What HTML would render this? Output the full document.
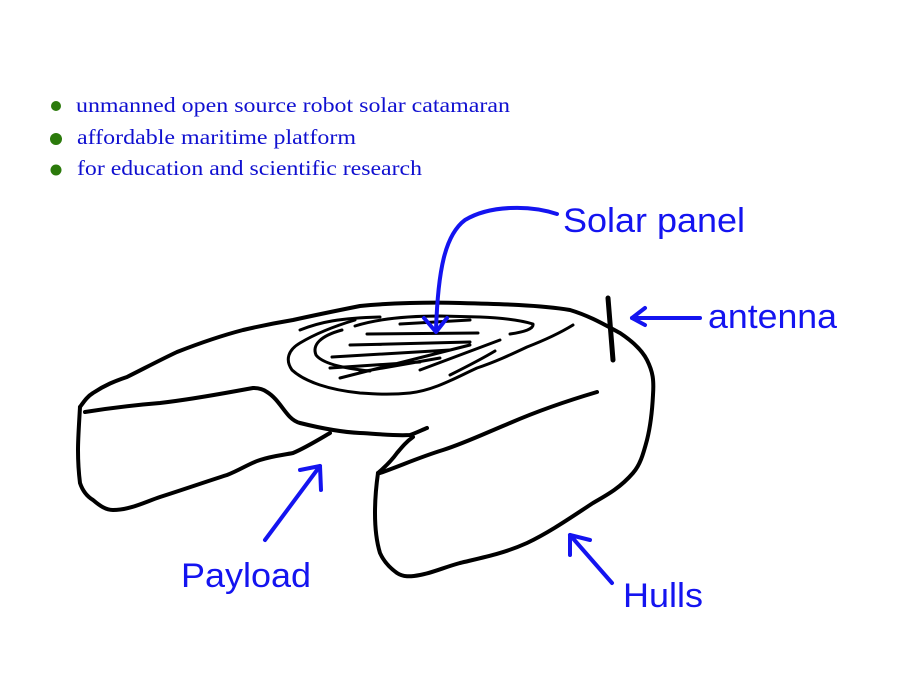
<!DOCTYPE html>
<html><head><meta charset="utf-8"><style>
html,body{margin:0;padding:0;background:#fff;width:900px;height:700px;overflow:hidden}
svg{display:block}
</style></head><body>
<svg width="900" height="700" viewBox="0 0 900 700" xmlns="http://www.w3.org/2000/svg">
<g fill="#2b7a0b">
<circle cx="56" cy="106" r="5"/><circle cx="56" cy="139" r="6"/><circle cx="56" cy="170" r="5.5"/>
</g>
<g font-family="Liberation Serif, serif" font-size="21" fill="#1010d0">
<text x="76" y="112" textLength="434" lengthAdjust="spacingAndGlyphs">unmanned open source robot solar catamaran</text>
<text x="77" y="144" textLength="279" lengthAdjust="spacingAndGlyphs">affordable maritime platform</text>
<text x="77" y="175" textLength="345" lengthAdjust="spacingAndGlyphs">for education and scientific research</text>
</g>
<g fill="none" stroke="#000" stroke-width="4" stroke-linecap="round" stroke-linejoin="round">
<path d="M80,407 C85,400 88,396 93,393 C105,385 115,381 127,377 C145,368 160,360 177,352 C200,343 220,336 243,330 C260,326 275,323 293,320 C320,314 340,310 360,306 C390,303 430,302 460,303 C500,304 540,305 570,310 C590,316 605,325 620,333 C635,343 643,352 647,360 C653,372 654,380 653,395 C652,415 650,428 647,440 C643,455 640,465 633,473 C620,488 607,495 593,503 C570,518 550,532 527,543 C505,553 485,557 460,563 C445,567 432,573 420,575 C410,577 403,577 397,573 C390,568 384,562 380,553 C376,540 375,527 375,513 C375,500 376,487 378,473"/>
<path d="M80,407 C79,425 78,438 78,450 C78,465 79,475 80,483 C83,492 88,497 93,500 C100,506 106,510 113,510 C130,510 145,502 160,497 C185,489 205,482 227,475 C240,470 250,463 260,460 C272,456 283,455 293,453 C305,448 318,440 330,433"/>
<path d="M85,412 C110,408 135,405 160,403 C195,399 225,393 253,388 C258,388 263,389 267,392 C277,398 283,410 290,417 C293,420 296,422 300,423 C320,428 340,432 360,433 C380,434 395,436 410,435 C416,433 422,430 427,428"/>
<path d="M413,437 C406,442 402,447 397,453 C392,460 385,467 378,473"/>
<path d="M380,473 C400,466 420,457 443,450 C465,443 488,432 510,423 C540,410 570,400 597,392"/>
</g>
<g fill="none" stroke="#000" stroke-width="3" stroke-linecap="round" stroke-linejoin="round">
<path d="M573,325 C560,333 545,340 527,347 C510,355 495,362 477,368 C455,378 435,390 410,393 C390,395 375,394 360,393 C330,390 305,382 292,370 C285,360 288,350 300,343 C315,334 335,326 355,320"/>
<path d="M342,330 C320,336 312,345 316,355 C322,363 340,368 370,371"/>
<path d="M355,326 C380,318 410,316 440,316 L480,317 C505,318 520,320 533,324 C534,329 524,332 510,334"/>
<path d="M367,334 L478,333 M350,345 L470,342 M332,357 L450,350 M330,368 L420,362 M340,378 L470,345 M420,370 L500,340 M360,372 L440,358 M400,324 L470,320 M300,330 C320,322 340,318 380,317 M450,375 C470,365 485,357 495,351"/>
</g>
<path d="M608,298 L613,360" stroke="#000" stroke-width="5" stroke-linecap="round"/>
<g fill="none" stroke="#1414f0" stroke-width="4" stroke-linecap="round" stroke-linejoin="round">
<path d="M557,214 C530,205 490,205 465,220 C445,235 438,270 436,330"/>
<path d="M424,318 L436,332 L447,318"/>
<path d="M700,318 L632,318"/>
<path d="M645,308 L632,318 L645,325"/>
<path d="M265,540 L320,466"/>
<path d="M300,470 L320,466 L321,490"/>
<path d="M612,583 L570,535"/>
<path d="M570,555 L570,535 L590,540"/>
</g>
<g font-family="Liberation Sans, sans-serif" font-size="34" fill="#1414f0">
<text x="563" y="232" textLength="182" lengthAdjust="spacingAndGlyphs">Solar panel</text>
<text x="708" y="328" textLength="129" lengthAdjust="spacingAndGlyphs">antenna</text>
<text x="181" y="587" textLength="130" lengthAdjust="spacingAndGlyphs">Payload</text>
<text x="623" y="607" textLength="80" lengthAdjust="spacingAndGlyphs">Hulls</text>
</g>
</svg>
</body></html>
